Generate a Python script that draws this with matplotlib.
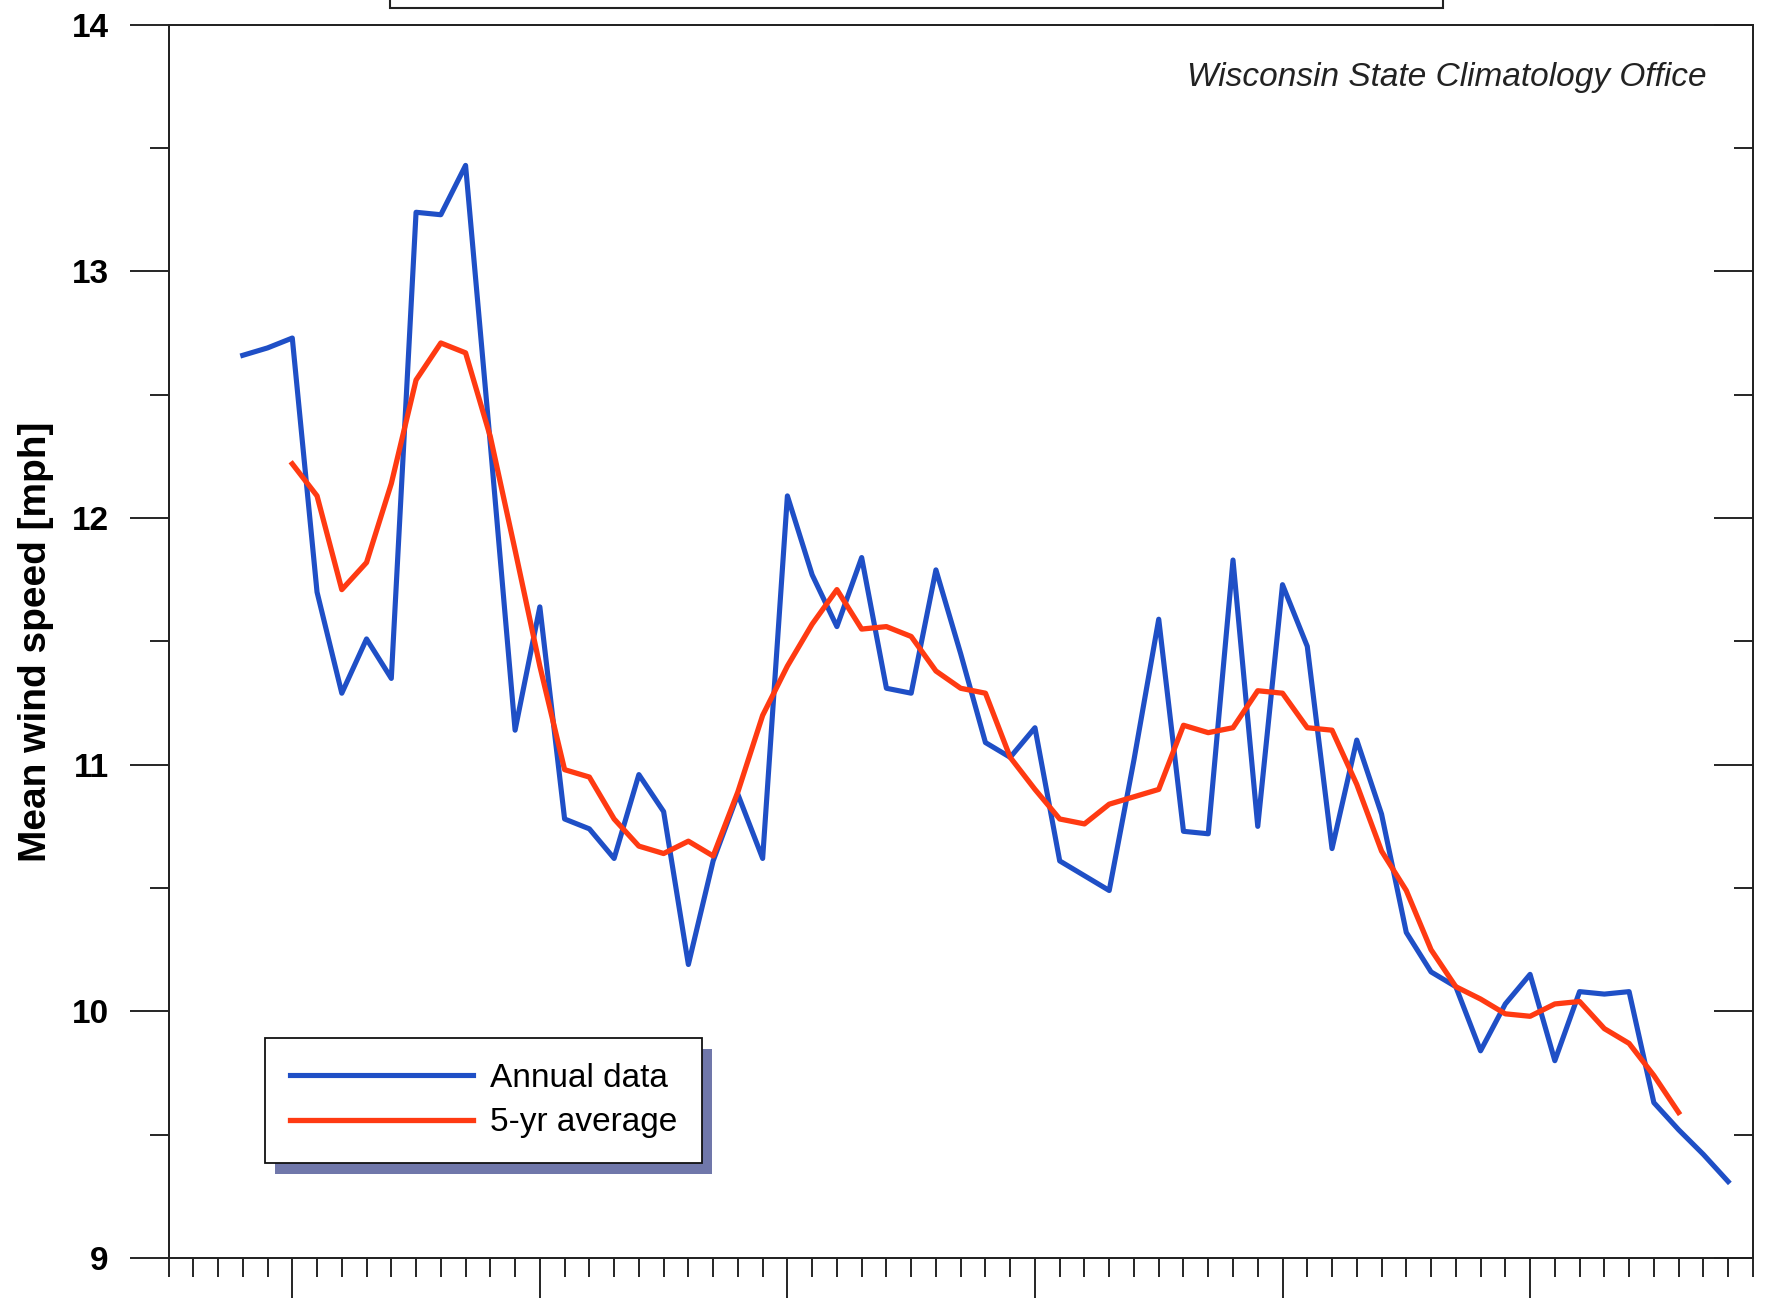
import numpy as np
import matplotlib
matplotlib.use("Agg")
import matplotlib.pyplot as plt
from matplotlib.patches import Rectangle
from matplotlib.ticker import MultipleLocator

plt.rcParams['font.family'] = ['Liberation Sans', 'DejaVu Sans']

# Annual mean wind speed (mph), 1948-2008
years = np.arange(1948, 2009)
annual = [12.66, 12.69, 12.73, 11.70, 11.29, 11.51, 11.35, 13.24, 13.23, 13.43,
          12.30, 11.14, 11.64, 10.78, 10.74, 10.62, 10.96, 10.81, 10.19, 10.61,
          10.88, 10.62, 12.09, 11.77, 11.56, 11.84, 11.31, 11.29, 11.79, 11.45,
          11.09, 11.03, 11.15, 10.61, 10.55, 10.49, 11.02, 11.59, 10.73, 10.72,
          11.83, 10.75, 11.73, 11.48, 10.66, 11.10, 10.80, 10.32, 10.16, 10.10,
          9.84, 10.03, 10.15, 9.80, 10.08, 10.07, 10.08, 9.63, 9.52, 9.42, 9.31]

# 5-yr centred average, 1950-2006
avg_years = np.arange(1950, 2007)
avg5 = [12.22, 12.09, 11.71, 11.82, 12.14, 12.56, 12.71, 12.67, 12.33, 11.87,
        11.40, 10.98, 10.95, 10.78, 10.67, 10.64, 10.69, 10.63, 10.89, 11.20,
        11.40, 11.57, 11.71, 11.55, 11.56, 11.52, 11.38, 11.31, 11.29, 11.03,
        10.90, 10.78, 10.76, 10.84, 10.87, 10.90, 11.16, 11.13, 11.15, 11.30,
        11.29, 11.15, 11.14, 10.92, 10.65, 10.49, 10.25, 10.10, 10.05, 9.99,
        9.98, 10.03, 10.04, 9.93, 9.87, 9.74, 9.59]

blue = '#1f4fc6'
orange = '#ff3a12'

fig = plt.figure(figsize=(17.85, 13.07), dpi=100)
ax = fig.add_axes([0.0944, 0.0375, 0.8876, 0.9435])

ax.plot(years, annual, color=blue, lw=3.7, label='Annual data', zorder=3)
ax.plot(avg_years, avg5, color=orange, lw=3.8, label='5-yr average', zorder=4)

ax.set_xlim(1945, 2009)
ax.set_ylim(9, 14)

ax.xaxis.set_major_locator(MultipleLocator(10))
ax.xaxis.set_minor_locator(MultipleLocator(1))
ax.yaxis.set_major_locator(MultipleLocator(1))
ax.yaxis.set_minor_locator(MultipleLocator(0.5))
ax.tick_params(axis='x', which='major', direction='out', length=29, width=1.2,
               labelbottom=False, top=False)
ax.tick_params(axis='x', which='minor', direction='out', length=14, width=1.2, top=False)
ax.tick_params(axis='y', which='major', direction='out', length=28, width=1.2, pad=15,
               labelsize=24, right=False)
ax.tick_params(axis='y', which='minor', direction='out', length=14, width=1.2, right=False)
for lab in ax.get_yticklabels():
    lab.set_fontweight('bold')

# right-hand ticks point inward
ax2 = ax.twinx()
ax2.set_ylim(9, 14)
ax2.yaxis.set_major_locator(MultipleLocator(1))
ax2.yaxis.set_minor_locator(MultipleLocator(0.5))
ax2.tick_params(axis='y', which='major', direction='in', length=28, width=1.2, labelright=False)
ax2.tick_params(axis='y', which='minor', direction='in', length=14, width=1.2)

for a in (ax, ax2):
    for s in a.spines.values():
        s.set_linewidth(1.3)
        s.set_color('#222222')

ax.set_ylabel('Mean wind speed [mph]', fontsize=28, fontweight='bold')
ax.yaxis.set_label_coords(-0.072, 0.5)

ax.text(0.971, 0.9575, 'Wisconsin State Climatology Office', transform=ax.transAxes,
        ha='right', va='center', fontsize=24, style='italic', color='#222222')

leg = ax.legend(loc='upper left', bbox_to_anchor=(0.0609, 0.1784), borderaxespad=0,
                fontsize=24, frameon=True, fancybox=False, edgecolor='#111111',
                handlelength=5.5, handletextpad=0.5, borderpad=0.75, labelspacing=0.4)
leg.get_frame().set_linewidth(1.3)
leg.get_frame().set_alpha(1)
leg.set_zorder(10)

# shadow behind legend box
fig.canvas.draw()
bb = leg.get_window_extent().transformed(fig.transFigure.inverted())
shadow = Rectangle((bb.x0 + 10 / 1785, bb.y0 - 11 / 1307), bb.width, bb.height,
                   transform=fig.transFigure, facecolor='#7077aa', edgecolor='none',
                   zorder=9)
ax.add_artist(shadow)

# title frame cut off at the top
fig.patches.append(Rectangle((390 / 1785, 1 - 8 / 1307), 1053 / 1785, 0.05,
                             transform=fig.transFigure, facecolor='white',
                             edgecolor='#222222', linewidth=1.5))

fig.savefig('out.png', dpi=100)
